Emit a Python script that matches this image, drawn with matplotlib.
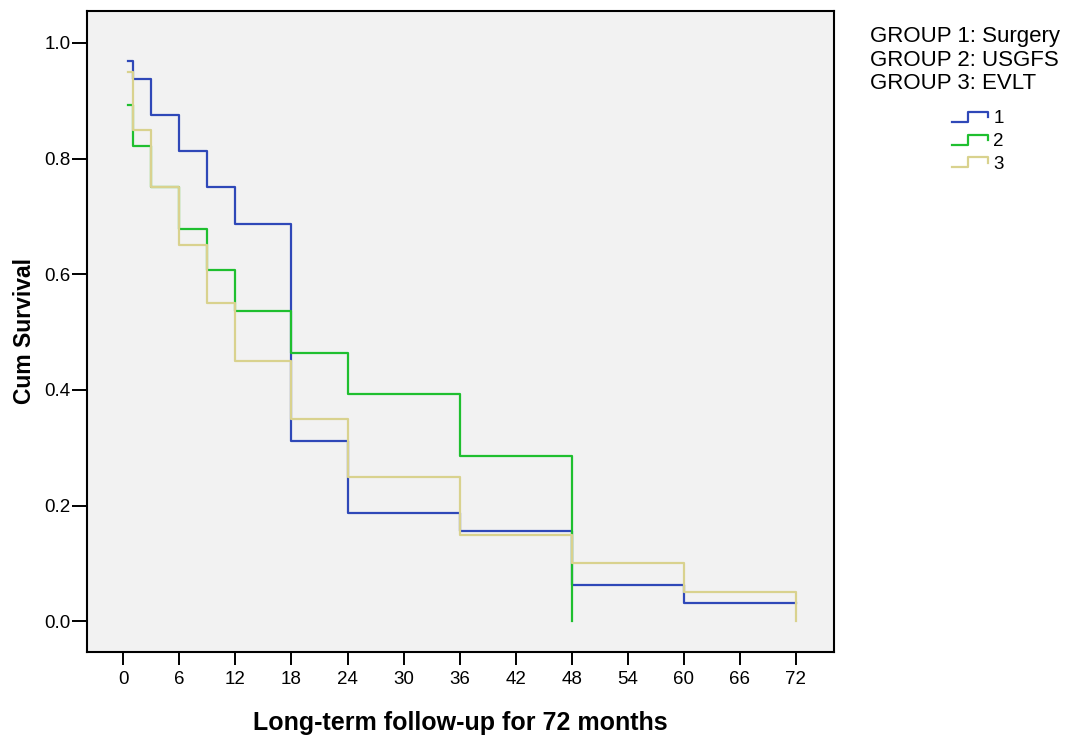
import numpy as np
import matplotlib
matplotlib.use("Agg")
import matplotlib.pyplot as plt
from matplotlib.lines import Line2D
from matplotlib.legend_handler import HandlerBase

plt.rcParams["font.family"] = ["Liberation Sans", "DejaVu Sans"]

# Kaplan-Meier steps (months, cumulative survival)
t_surgery = [0.5, 1, 3, 6, 9, 12, 18, 24, 36, 48, 60, 72]
s_surgery = [0.969, 0.9375, 0.875, 0.8125, 0.75, 0.6875, 0.3125, 0.1875,
             0.156, 0.0625, 0.031, 0.031]

t_usgfs = [0.5, 1, 3, 6, 9, 12, 18, 24, 36, 48]
s_usgfs = [0.893, 0.821, 0.75, 0.679, 0.607, 0.536, 0.464, 0.393, 0.286, 0.0]

t_evlt = [0.5, 1, 3, 6, 9, 12, 18, 24, 36, 48, 60, 72]
s_evlt = [0.95, 0.85, 0.75, 0.65, 0.55, 0.45, 0.35, 0.25, 0.15, 0.10, 0.05, 0.0]

group_names = ["GROUP 1: Surgery", "GROUP 2: USGFS", "GROUP 3: EVLT"]
group_labels = ["1", "2", "3"]
colors = ["#2f48b8", "#1fbf2f", "#d9d28e"]

x_ticks = list(range(0, 73, 6))
y_ticks = [0.0, 0.2, 0.4, 0.6, 0.8, 1.0]


class StepHandler(HandlerBase):
    # little survival-step glyph like the SPSS legend
    def create_artists(self, legend, orig_handle, xdescent, ydescent,
                       width, height, fontsize, trans):
        x = np.array([0, 0.45, 0.45, 1.0, 1.0]) * width - xdescent
        y = np.array([0.1, 0.1, 0.85, 0.85, 0.45]) * height - ydescent
        ln = Line2D(x, y, color=orig_handle.get_color(),
                    lw=orig_handle.get_linewidth())
        ln.set_transform(trans)
        return [ln]


W, H = 1081, 738
fig = plt.figure(figsize=(W / 100, H / 100), dpi=100)
ax = fig.add_axes([87 / W, 1 - 652 / H, (834 - 87) / W, (652 - 11) / H])
ax.set_facecolor("#f2f2f2")

handles = []
for t, s, c in [(t_surgery, s_surgery, colors[0]),
                (t_usgfs, s_usgfs, colors[1]),
                (t_evlt, s_evlt, colors[2])]:
    h, = ax.step(t, s, where="post", color=c, lw=1.6)
    handles.append(h)

ax.set_xlim(-3.9, 76.1)
ax.set_ylim(-0.053, 1.055)
ax.set_xticks(x_ticks)
ax.set_yticks(y_ticks)
ax.set_yticklabels([f"{v:.1f}" for v in y_ticks])
ax.tick_params(axis="x", length=9, width=1.4, pad=5, labelsize=13.5)
ax.tick_params(axis="y", length=10.5, width=1.4, pad=1.5, labelsize=13.5)
for sp in ax.spines.values():
    sp.set_linewidth(1.5)

ax.set_xlabel("Long-term follow-up for 72 months", fontsize=18,
              fontweight="bold", labelpad=16)
ax.set_ylabel("Cum Survival", fontsize=16.5, fontweight="bold", labelpad=6)

for i, name in enumerate(group_names):
    fig.text(870 / W, 1 - (26 + 23.5 * i) / H, name, fontsize=16,
             va="top", ha="left")

fig.legend(handles, group_labels, handler_map={Line2D: StepHandler()},
           loc="upper left", bbox_to_anchor=(952 / W, 1 - 110 / H),
           frameon=False, fontsize=13.5, handlelength=1.9,
           handletextpad=0.3, labelspacing=0.3, borderpad=0,
           borderaxespad=0)

fig.savefig("out.png", dpi=100)
